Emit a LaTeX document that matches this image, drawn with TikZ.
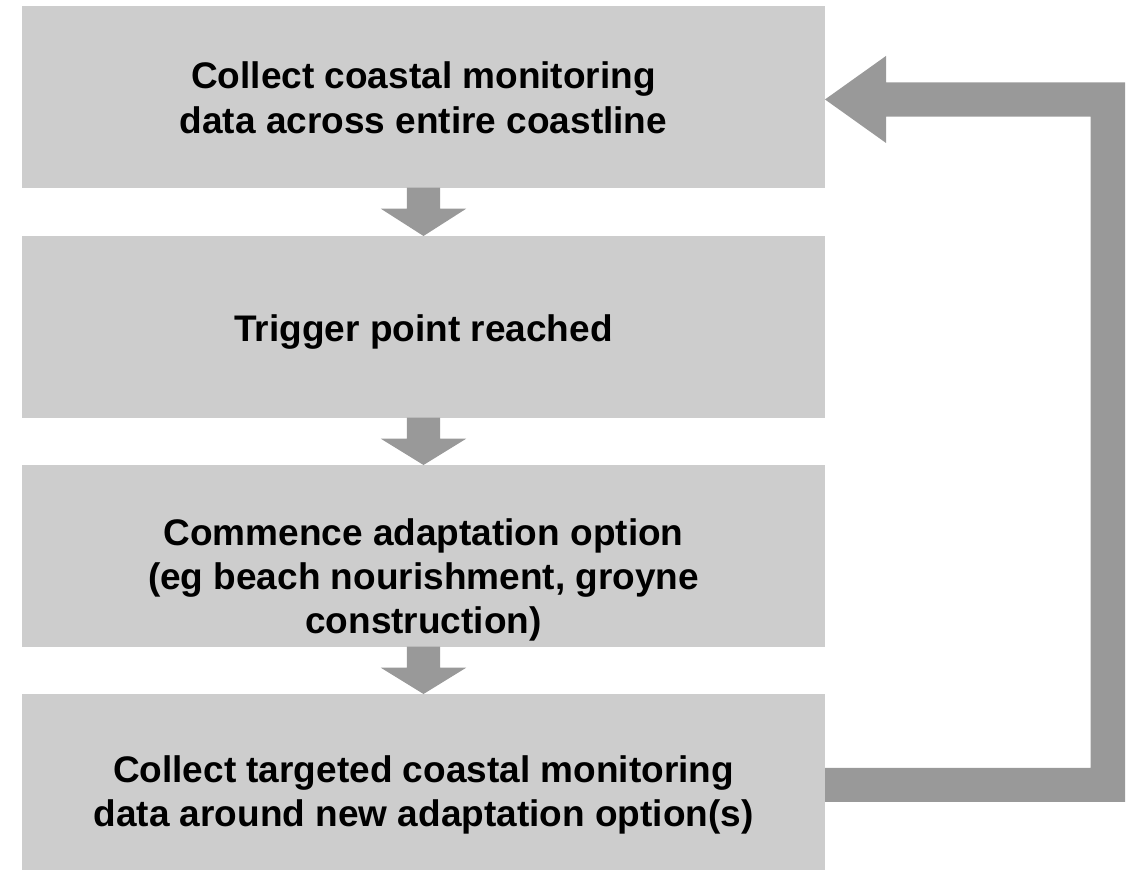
\documentclass[tikz,border=0pt]{standalone}
\usepackage{fontspec}
\setmainfont{Liberation Sans}
\usetikzlibrary{calc}
\definecolor{boxgray}{RGB}{205,205,205}
\definecolor{arrgray}{RGB}{153,153,153}
\newcommand\blockdown[2]{%
  \fill[arr] ($(#1.south)+(-16.7,0)$) -- ($(#1.south)+(16.7,0)$) -- ($(#1.south)+(16.7,21)$)
    -- ($(#1.south)+(42.7,21)$) -- (#2.north) -- ($(#1.south)+(-42.7,21)$)
    -- ($(#1.south)+(-16.7,21)$) -- cycle;}
\begin{document}
\begin{tikzpicture}[x=1pt,y=-1pt,
  box/.style={fill=boxgray,draw=none,minimum width=803pt,minimum height=181.7pt,inner sep=0pt,outer sep=0pt},
  txt/.style={align=center,font=\fontsize{37}{44.4}\selectfont\bfseries,inner sep=0pt},
  arr/.style={fill=arrgray,draw=none}]
\useasboundingbox (0,0) rectangle (1133,870);
\node[box] (b1) at (423.5,96.85) {};
\node[box] (b2) at (423.5,326.85) {};
\node[box] (b3) at (423.5,555.85) {};
\node[box] (b4) at (423.5,784.85) {};
\node[txt] (t1) at ($(b1.center)+(0,1)$) {Collect coastal monitoring\\data across entire coastline};
\node[txt] (t2) at ($(b2.center)+(0,5)$) {Trigger point reached};
\node[txt] (t3) at ($(b3.center)+(0,24)$) {Commence adaptation option\\(eg beach nourishment, groyne\\construction)};
\node[txt] (t4) at ($(b4.center)+(0,10)$) {Collect targeted coastal monitoring\\data around new adaptation option(s)};
\blockdown{b1}{b2}
\blockdown{b2}{b3}
\blockdown{b3}{b4}
\coordinate (tip) at ($(b1.east)+(0,2.6)$);
\fill[arr] ($(b4.east)+(0,17)$) -- ($(b4.east)+(300,17)$) -- ($(tip)+(300,-17.2)$)
  -- ($(tip)+(61,-17.2)$) -- ($(tip)+(61,-43.5)$) -- (tip) -- ($(tip)+(61,43.5)$)
  -- ($(tip)+(61,17.2)$) -- ($(tip)+(265.7,17.2)$) -- ($(b4.east)+(265.7,-17)$)
  -- ($(b4.east)+(0,-17)$) -- cycle;
\end{tikzpicture}
\end{document}
